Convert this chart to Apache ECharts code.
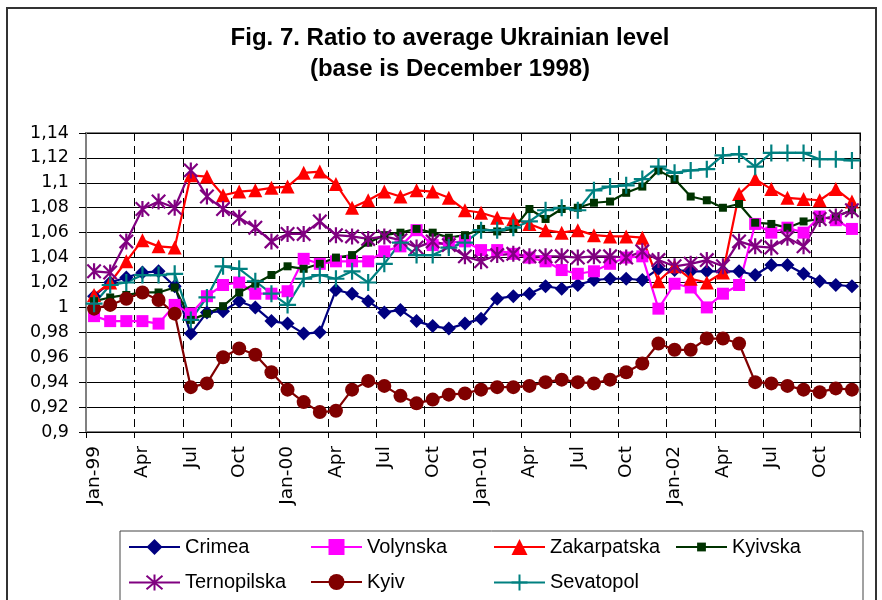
<!DOCTYPE html>
<html>
<head>
<meta charset="utf-8">
<script src="https://cdn.jsdelivr.net/npm/echarts@6/dist/echarts.min.js"></script>
<style>html,body{margin:0;padding:0;background:#fff;}#c{width:882px;height:600px;}</style>
</head>
<body>
<div id="c"></div>
<script>
const categories = [
  'Jan-99','Feb','Mar','Apr','May','Jun','Jul','Aug','Sep','Oct','Nov','Dec',
  'Jan-00','Feb','Mar','Apr','May','Jun','Jul','Aug','Sep','Oct','Nov','Dec',
  'Jan-01','Feb','Mar','Apr','May','Jun','Jul','Aug','Sep','Oct','Nov','Dec',
  'Jan-02','Feb','Mar','Apr','May','Jun','Jul','Aug','Sep','Oct','Nov','Dec'
];
const yTicks = [0.9, 0.92, 0.94, 0.96, 0.98, 1, 1.02, 1.04, 1.06, 1.08, 1.1, 1.12, 1.14];

const crimea = [1.009,1.020,1.024,1.028,1.029,1.017,0.979,0.996,0.997,1.005,1.000,0.989,
  0.987,0.979,0.980,1.014,1.011,1.005,0.996,0.998,0.989,0.985,0.983,0.987,
  0.991,1.007,1.009,1.011,1.017,1.015,1.018,1.022,1.023,1.023,1.022,1.031,
  1.030,1.029,1.029,1.029,1.029,1.026,1.034,1.034,1.027,1.021,1.018,1.017];
const volynska = [0.993,0.989,0.989,0.989,0.987,1.002,0.995,1.009,1.018,1.020,1.011,1.011,
  1.013,1.039,1.035,1.037,1.037,1.037,1.045,1.049,1.062,1.050,1.052,1.053,
  1.046,1.046,1.043,1.040,1.037,1.030,1.027,1.029,1.035,1.040,1.041,0.999,
  1.019,1.016,1.000,1.011,1.018,1.067,1.060,1.064,1.060,1.073,1.070,1.063];
const zakarpatska = [1.010,1.020,1.037,1.054,1.049,1.048,1.106,1.105,1.090,1.093,1.094,1.096,
  1.097,1.108,1.109,1.099,1.080,1.086,1.093,1.089,1.094,1.093,1.088,1.078,
  1.076,1.072,1.071,1.067,1.062,1.060,1.062,1.058,1.057,1.057,1.056,1.021,
  1.033,1.023,1.020,1.028,1.091,1.103,1.095,1.088,1.087,1.086,1.095,1.085];
const kyivska = [1.005,1.008,1.010,1.012,1.012,1.016,0.990,0.995,1.001,1.012,1.019,1.026,
  1.033,1.031,1.035,1.040,1.042,1.052,1.058,1.060,1.063,1.060,1.056,1.058,
  1.063,1.061,1.063,1.079,1.071,1.079,1.080,1.084,1.085,1.092,1.097,1.110,
  1.103,1.089,1.086,1.080,1.083,1.068,1.067,1.064,1.069,1.071,1.073,1.078];
const ternopilska = [1.029,1.028,1.053,1.079,1.085,1.080,1.110,1.089,1.079,1.072,1.064,1.053,
  1.059,1.059,1.069,1.058,1.057,1.055,1.057,1.054,1.048,1.053,1.050,1.041,
  1.037,1.042,1.043,1.041,1.041,1.041,1.040,1.041,1.041,1.040,1.045,1.038,
  1.033,1.035,1.038,1.033,1.053,1.049,1.048,1.056,1.049,1.071,1.073,1.078];
const kyiv = [0.999,1.002,1.007,1.012,1.006,0.995,0.936,0.939,0.960,0.967,0.962,0.948,
  0.934,0.924,0.916,0.917,0.934,0.941,0.937,0.929,0.923,0.926,0.930,0.931,
  0.934,0.936,0.936,0.937,0.940,0.942,0.940,0.939,0.942,0.948,0.955,0.971,
  0.966,0.966,0.975,0.975,0.971,0.940,0.939,0.937,0.934,0.932,0.935,0.934];
const sevatopol = [1.003,1.018,1.020,1.026,1.026,1.027,0.990,1.008,1.033,1.031,1.021,1.011,
  1.002,1.023,1.026,1.023,1.029,1.020,1.035,1.052,1.042,1.042,1.048,1.052,
  1.062,1.062,1.064,1.069,1.078,1.080,1.078,1.094,1.097,1.098,1.103,1.113,
  1.108,1.110,1.111,1.122,1.123,1.113,1.124,1.124,1.124,1.119,1.119,1.118];

const seriesNames = ['Crimea','Volynska','Zakarpatska','Kyivska','Ternopilska','Kyiv','Sevatopol'];

const ASTERISK = 'path://M5 0 L5 10 M0.8 0.8 L9.2 9.2 M9.2 0.8 L0.8 9.2';
const PLUS = 'path://M5 0 L5 10 M0 5 L10 5';

function mk(name, data, color, symbol, size, stroke) {
  return {
    name: name, type: 'line', data: data,
    symbol: symbol, symbolSize: size, symbolKeepAspect: true,
    showAllSymbol: true,
    lineStyle: {color: color, width: 2.2},
    itemStyle: {color: stroke ? 'none' : color, borderColor: color, borderWidth: stroke ? 2.2 : 0},
    emphasis: {disabled: true},
    animation: false
  };
}

const series = [
  mk(seriesNames[0], crimea, '#000080', 'diamond', 14, false),
  mk(seriesNames[1], volynska, '#FF00FF', 'rect', 12, false),
  mk(seriesNames[2], zakarpatska, '#FF0000', 'triangle', 14, false),
  mk(seriesNames[3], kyivska, '#003300', 'rect', 8, false),
  mk(seriesNames[4], ternopilska, '#800080', ASTERISK, 16, true),
  mk(seriesNames[5], kyiv, '#800000', 'circle', 14, false),
  mk(seriesNames[6], sevatopol, '#008080', PLUS, 17, true)
];

const cols = [128, 310, 493, 675];
const rows = [548, 583];
const legendIconH = [20, 20, 20, 11, 20, 20, 20];
const legends = seriesNames.map(function (n, i) {
  return {
    data: [n], left: cols[i % 4], top: rows[Math.floor(i / 4)] - 11,
    orient: 'horizontal', padding: 0, itemGap: 0,
    itemWidth: 51, itemHeight: legendIconH[i], selectedMode: false,
    textStyle: {fontFamily: 'Liberation Sans', fontSize: 20, color: '#000'}
  };
});

const chart = echarts.init(document.getElementById('c'), null, {renderer: 'canvas'});
chart.setOption({
  backgroundColor: '#fff',
  animation: false,
  grid: {left: 86, right: 22, top: 133, bottom: 168, show: true, borderColor: '#808080', borderWidth: 2, containLabel: false},
  legend: legends,
  xAxis: {
    type: 'category', data: categories, boundaryGap: true,
    axisLine: {show: true, lineStyle: {color: '#000', width: 1, type: [8, 5]}},
    axisTick: {show: true, interval: 2, length: 6, lineStyle: {color: '#000', width: 1}},
    axisLabel: {interval: 2, rotate: 90, margin: 14, fontFamily: 'DejaVu Sans', fontSize: 18.5, color: '#000'},
    splitLine: {show: true, interval: 2, lineStyle: {color: '#000', width: 1, type: [8, 5]}}
  },
  yAxis: {
    type: 'value', min: yTicks[0], max: yTicks[yTicks.length - 1], interval: 0.02,
    axisLine: {show: true, lineStyle: {color: '#808080', width: 2}},
    axisTick: {show: true, length: 7, lineStyle: {color: '#000', width: 1}},
    axisLabel: {
      margin: 17, fontFamily: 'DejaVu Sans', fontSize: 17.5, color: '#000',
      formatter: function (v) { return String(Math.round(v * 100) / 100).replace('.', ','); }
    },
    splitLine: {show: true, lineStyle: {color: '#000', width: 1}}
  },
  graphic: [
    {type: 'rect', silent: true, z: 100, shape: {x: 7, y: 8, width: 869, height: 620},
     style: {fill: 'none', stroke: '#333', lineWidth: 2}},
    {type: 'rect', silent: true, z: 100, shape: {x: 120, y: 531, width: 743, height: 90},
     style: {fill: 'none', stroke: '#444', lineWidth: 1}},
    {type: 'text', silent: true, x: 450, y: 38,
     style: {text: 'Fig. 7. Ratio to average Ukrainian level', font: 'bold 24px "Liberation Sans"', fill: '#000', align: 'center', verticalAlign: 'middle'}},
    {type: 'text', silent: true, x: 450, y: 69,
     style: {text: '(base is December 1998)', font: 'bold 24px "Liberation Sans"', fill: '#000', align: 'center', verticalAlign: 'middle'}}
  ],
  series: series
});
</script>
</body>
</html>
